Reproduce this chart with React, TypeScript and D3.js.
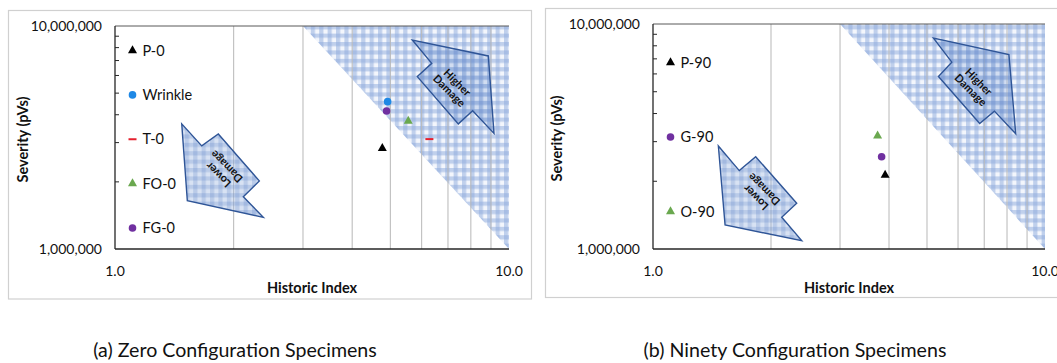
import React from "react";
import * as d3 from "d3";

// ---- data ----
const zeroNames = ["P-0", "Wrinkle", "T-0", "FO-0", "FG-0"];
const zeroIndex = [4.77, 4.92, 6.28, 5.55, 4.89];
const zeroSeverity = [2830000, 4580000, 3110000, 3750000, 4160000];
const zeroMarkers = ["triangle", "circle", "dash", "triangle", "circle"];
const zeroColors = ["#000000", "#1e88e5", "#e5202e", "#6aa84f", "#7030a0"];

const ninetyNames = ["P-90", "G-90", "O-90"];
const ninetyIndex = [3.91, 3.83, 3.74];
const ninetySeverity = [2130000, 2570000, 3180000];
const ninetyMarkers = ["triangle", "circle", "triangle"];
const ninetyColors = ["#000000", "#7030a0", "#6aa84f"];

const xDomain = [1, 10];
const yDomain = [1000000, 10000000];
const xTickValues = [1, 10];
const xTickLabels = ["1.0", "10.0"];
const yTickValues = [1000000, 10000000];
const yTickLabels = ["1,000,000", "10,000,000"];
const gridIndex = [2, 3, 4, 5, 6, 7, 8, 9];
const minorSeverity = [2e6, 3e6, 4e6, 5e6, 6e6, 7e6, 8e6, 9e6];

// shaded "higher damage" zone, in data units
const zoneIndex = [3, 10, 10];
const zoneSeverity = [1e7, 1e7, 1e6];

// block arrows, in data units
const lowerZeroIndex = [1.477, 1.66, 1.829, 2.324, 2.117, 2.379, 1.526];
const lowerZeroSeverity = [3.64e6, 2.9e6, 3.28e6, 2.02e6, 1.716e6, 1.387e6, 1.647e6];
const higherZeroIndex = [5.683, 6.366, 5.852, 7.436, 8.087, 9.16, 8.862];
const higherZeroSeverity = [8.65e6, 6.8e6, 5.93e6, 3.64e6, 4.17e6, 3.3e6, 7.34e6];

const lowerNinetyIndex = [1.468, 1.66, 1.828, 2.326, 2.13, 2.395, 1.527];
const lowerNinetySeverity = [2.87e6, 2.23e6, 2.57e6, 1.596e6, 1.383e6, 1.089e6, 1.278e6];
const higherNinetyIndex = [5.193, 5.784, 5.348, 6.813, 7.429, 8.42, 8.09];
const higherNinetySeverity = [8.66e6, 6.77e6, 5.84e6, 3.61e6, 4.1e6, 3.25e6, 7.32e6];

const FONT = "Lato, 'Open Sans', sans-serif";

type Box = { l: number; r: number; t: number; b: number };

function markerShape(kind: string, color: string, cx: number, cy: number, key: string) {
  if (kind === "triangle") {
    const w = 9, h = 8;
    const d = `M${cx},${cy - (h * 2) / 3}L${cx + w / 2},${cy + h / 3}L${cx - w / 2},${cy + h / 3}Z`;
    return <path key={key} d={d} fill={color} />;
  }
  if (kind === "circle") {
    return <circle key={key} cx={cx} cy={cy} r={3.8} fill={color} />;
  }
  return <rect key={key} x={cx - 4} y={cy - 1} width={8} height={2} fill={color} />;
}

type ArrowDef = { xs: number[]; ys: number[]; angle: number; lines: string[] };

function Panel(props: {
  frame: Box;
  plot: Box;
  names: string[];
  idx: number[];
  sev: number[];
  markers: string[];
  colors: string[];
  legendX: number;
  legendFirst: number;
  legendLast: number;
  arrows: ArrowDef[];
  yTitleX: number;
  caption: string;
  captionX: number;
  clipId: string;
}) {
  const { frame, plot } = props;
  const x = d3.scaleLog().domain(xDomain).range([plot.l, plot.r]);
  const y = d3.scaleLog().domain(yDomain).range([plot.b, plot.t]);
  const line = d3
    .line<[number, number]>()
    .x((d) => x(d[0]))
    .y((d) => y(d[1]));

  const zone = line(zoneIndex.map((v, i) => [v, zoneSeverity[i]] as [number, number])) + "Z";
  const legendY = d3
    .scaleLinear()
    .domain([0, props.names.length - 1])
    .range([props.legendFirst, props.legendLast]);

  return (
    <g>
      <defs>
        <clipPath id={props.clipId}>
          <rect x={plot.l} y={plot.t} width={plot.r - plot.l} height={plot.b - plot.t} />
        </clipPath>
      </defs>
      <rect
        x={frame.l}
        y={frame.t}
        width={frame.r - frame.l}
        height={frame.b - frame.t}
        fill="#fff"
        stroke="#d0d0d0"
        strokeWidth={1.2}
      />
      <g clipPath={`url(#${props.clipId})`}>
        <path d={zone} fill="url(#gingham)" />
        {gridIndex.map((g) => (
          <line
            key={g}
            x1={x(g)}
            x2={x(g)}
            y1={plot.t}
            y2={plot.b}
            stroke="#b8b8b8"
            strokeOpacity={0.85}
            strokeWidth={1.2}
          />
        ))}
        {props.arrows.map((a, ai) => {
          const pts = a.xs.map((v, i) => [v, a.ys[i]] as [number, number]);
          const px = pts.map((p) => x(p[0]));
          const py = pts.map((p) => y(p[1]));
          const cx = (d3.min(px)! + d3.max(px)!) / 2;
          const cy = (d3.min(py)! + d3.max(py)!) / 2;
          return (
            <g key={ai}>
              <path
                d={line(pts) + "Z"}
                fill="url(#ginghamArrow)"
                stroke="#2f5597"
                strokeWidth={1.4}
                strokeLinejoin="miter"
              />
              <text
                transform={`translate(${cx},${cy}) rotate(${a.angle})`}
                fontFamily={FONT}
                fontWeight={700}
                fontSize={11}
                fill="#111"
                textAnchor="middle"
              >
                <tspan x={0} y={-2}>
                  {a.lines[0]}
                </tspan>
                <tspan x={0} y={9.5}>
                  {a.lines[1]}
                </tspan>
              </text>
            </g>
          );
        })}
      </g>
      {/* axes */}
      <line x1={plot.l} x2={plot.r} y1={plot.t} y2={plot.t} stroke="#595959" strokeWidth={1} />
      <line x1={plot.l} x2={plot.l} y1={plot.t} y2={plot.b} stroke="#262626" strokeWidth={1.3} />
      <line x1={plot.l} x2={plot.r} y1={plot.b} y2={plot.b} stroke="#262626" strokeWidth={1.3} />
      {minorSeverity.map((v) => (
        <line key={v} x1={plot.l} x2={plot.l + 4} y1={y(v)} y2={y(v)} stroke="#262626" strokeWidth={1} />
      ))}
      {yTickValues.map((v, i) => (
        <text
          key={v}
          x={plot.l - 13}
          y={y(v)}
          dy="0.35em"
          textAnchor="end"
          fontFamily={FONT}
          fontSize={14}
          fill="#111"
        >
          {yTickLabels[i]}
        </text>
      ))}
      {xTickValues.map((v, i) => (
        <text
          key={v}
          x={x(v)}
          y={plot.b + 22}
          dy="0.35em"
          textAnchor="middle"
          fontFamily={FONT}
          fontSize={14}
          fill="#111"
        >
          {xTickLabels[i]}
        </text>
      ))}
      <text
        x={(plot.l + plot.r) / 2}
        y={plot.b + 39}
        dy="0.35em"
        textAnchor="middle"
        fontFamily={FONT}
        fontWeight={700}
        fontSize={14.5}
        fill="#111"
      >
        Historic Index
      </text>
      <text
        transform={`translate(${props.yTitleX},${(plot.t + plot.b) / 2 + 2}) rotate(-90)`}
        dy="0.35em"
        textAnchor="middle"
        fontFamily={FONT}
        fontWeight={700}
        fontSize={14.5}
        fill="#111"
      >
        Severity (pVs)
      </text>
      {/* data points */}
      {props.idx.map((v, i) =>
        markerShape(props.markers[i], props.colors[i], x(v), y(props.sev[i]), "pt" + i)
      )}
      {/* legend */}
      {props.names.map((n, i) => (
        <g key={n}>
          {markerShape(props.markers[i], props.colors[i], props.legendX, legendY(i), "lg" + i)}
          <text
            x={props.legendX + 10}
            y={legendY(i)}
            dy="0.35em"
            fontFamily={FONT}
            fontSize={14.5}
            fill="#111"
          >
            {n}
          </text>
        </g>
      ))}
      <text
        x={props.captionX}
        y={350}
        dy="0.35em"
        textAnchor="middle"
        fontFamily={FONT}
        fontSize={19.6}
        fill="#111"
      >
        {props.caption}
      </text>
    </g>
  );
}

export default function App() {
  return (
    <svg
      width={1057}
      height={363}
      style={{ position: "absolute", left: 0, top: 0, background: "#fff" }}
    >
      <defs>
        <pattern id="gingham" width={8.4} height={8.4} patternUnits="userSpaceOnUse">
          <rect width={8.4} height={8.4} fill="#f3f6fc" />
          <rect x={0} y={0} width={4.2} height={8.4} fill="#8eaadc" fillOpacity={0.5} />
          <rect x={0} y={0} width={8.4} height={4.2} fill="#8eaadc" fillOpacity={0.5} />
        </pattern>
        <pattern id="ginghamArrow" width={8.4} height={8.4} patternUnits="userSpaceOnUse">
          <rect width={8.4} height={8.4} fill="#9db6e2" fillOpacity={0.4} />
          <rect x={0} y={0} width={4.2} height={8.4} fill="#5a82c8" fillOpacity={0.24} />
          <rect x={0} y={0} width={8.4} height={4.2} fill="#5a82c8" fillOpacity={0.24} />
        </pattern>
      </defs>
      <Panel
        frame={{ l: 8.5, r: 531.5, t: 10.5, b: 299 }}
        plot={{ l: 115, r: 509, t: 26, b: 249 }}
        names={zeroNames}
        idx={zeroIndex}
        sev={zeroSeverity}
        markers={zeroMarkers}
        colors={zeroColors}
        legendX={132.5}
        legendFirst={50.5}
        legendLast={228}
        arrows={[
          { xs: lowerZeroIndex, ys: lowerZeroSeverity, angle: 225, lines: ["Lower", "Damage"] },
          { xs: higherZeroIndex, ys: higherZeroSeverity, angle: 45, lines: ["Higher", "Damage"] },
        ]}
        yTitleX={22.5}
        caption="(a) Zero Configuration Specimens"
        captionX={235}
        clipId="clipZero"
      />
      <Panel
        frame={{ l: 545.5, r: 1070, t: 8.5, b: 297.5 }}
        plot={{ l: 653, r: 1045, t: 24, b: 249 }}
        names={ninetyNames}
        idx={ninetyIndex}
        sev={ninetySeverity}
        markers={ninetyMarkers}
        colors={ninetyColors}
        legendX={670.5}
        legendFirst={62.5}
        legendLast={211.5}
        arrows={[
          { xs: lowerNinetyIndex, ys: lowerNinetySeverity, angle: 225, lines: ["Lower", "Damage"] },
          { xs: higherNinetyIndex, ys: higherNinetySeverity, angle: 45, lines: ["Higher", "Damage"] },
        ]}
        yTitleX={557}
        caption="(b) Ninety Configuration Specimens"
        captionX={795}
        clipId="clipNinety"
      />
    </svg>
  );
}
